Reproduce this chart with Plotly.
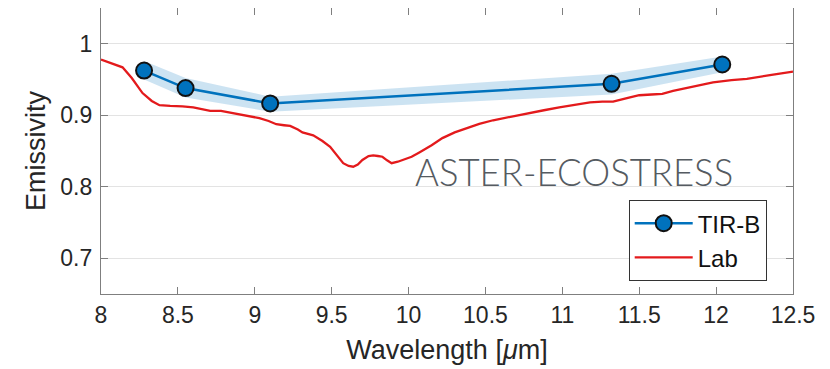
import plotly.graph_objects as go

# TIR-B measurements
tir_wl = [8.28, 8.55, 9.10, 11.32, 12.04]
tir_em = [0.9625, 0.938, 0.9165, 0.944, 0.971]
tir_upper = [0.976, 0.952, 0.926, 0.958, 0.982]
tir_lower = [0.950, 0.925, 0.905, 0.929, 0.960]

# Lab spectrum
lab_wl = [8.00, 8.07, 8.14, 8.20, 8.27, 8.33, 8.38, 8.45, 8.53, 8.60,
          8.66, 8.71, 8.78, 8.86, 8.95, 9.03, 9.09, 9.14, 9.19, 9.23,
          9.28, 9.31, 9.38, 9.44, 9.49, 9.53, 9.575, 9.61, 9.64, 9.67,
          9.70, 9.74, 9.77, 9.80, 9.83, 9.86, 9.89, 9.93, 9.96, 10.02,
          10.07, 10.15, 10.22, 10.30, 10.38, 10.46, 10.55, 10.66, 10.77, 10.88,
          10.98, 11.08, 11.18, 11.26, 11.33, 11.42, 11.50, 11.58, 11.65, 11.72,
          11.79, 11.88, 11.98, 12.10, 12.20, 12.35, 12.50]
lab_em = [0.978, 0.973, 0.967, 0.952, 0.931, 0.920, 0.914, 0.913, 0.9125, 0.911,
          0.908, 0.906, 0.906, 0.903, 0.900, 0.896, 0.892, 0.8875, 0.886, 0.885,
          0.880, 0.876, 0.872, 0.864, 0.856, 0.845, 0.833, 0.829, 0.828, 0.831,
          0.8375, 0.843, 0.844, 0.843, 0.842, 0.837, 0.833, 0.835, 0.8375, 0.842,
          0.848, 0.858, 0.868, 0.876, 0.882, 0.888, 0.893, 0.898, 0.903, 0.907,
          0.911, 0.915, 0.918, 0.919, 0.919, 0.924, 0.928, 0.929, 0.930, 0.934,
          0.9375, 0.942, 0.946, 0.949, 0.951, 0.956, 0.961]

x_ticks = [8, 8.5, 9, 9.5, 10, 10.5, 11, 11.5, 12, 12.5]
x_ticktext = ["8", "8.5", "9", "9.5", "10", "10.5", "11", "11.5", "12", "12.5"]
y_ticks = [0.7, 0.8, 0.9, 1.0]
y_ticktext = ["0.7", "0.8", "0.9", "1"]

FONT = "Liberation Sans, Arial, sans-serif"
AXCOL = "#7f7f7f"

fig = go.Figure()

fig.add_trace(go.Scatter(
    x=tir_wl + tir_wl[::-1], y=tir_upper + tir_lower[::-1],
    fill="toself", fillcolor="rgba(0,114,189,0.2)", line=dict(width=0),
    mode="lines", showlegend=False, hoverinfo="skip"))

fig.add_trace(go.Scatter(
    x=tir_wl, y=tir_em, mode="lines+markers", name="TIR-B",
    line=dict(color="#0072BD", width=2.5),
    marker=dict(size=16, color="#0072BD", line=dict(color="#111111", width=2))))

fig.add_trace(go.Scatter(
    x=lab_wl, y=lab_em, mode="lines", name="Lab",
    line=dict(color="#e31a1c", width=2.3)))

fig.add_annotation(
    x=10.03, y=0.820, xref="x", yref="y", xanchor="left", yanchor="middle",
    text="ASTER-ECOSTRESS", showarrow=False,
    font=dict(family="Lato, Roboto, sans-serif", size=36.5, color="#555b61", weight=300))

# page body has an 8px default margin, so margins are offset accordingly
fig.update_layout(
    width=830, height=369,
    margin=dict(l=93, r=45, t=0, b=83, pad=0, autoexpand=False),
    paper_bgcolor="white", plot_bgcolor="white",
    font=dict(family=FONT, color="#262626"),
    legend=dict(x=0.962, y=0.045, xanchor="right", yanchor="bottom",
                bgcolor="white", bordercolor="#333333", borderwidth=1,
                font=dict(size=24, color="#111111"), itemwidth=58,
                tracegroupgap=0),
    xaxis=dict(range=[8, 12.5], tickvals=x_ticks, ticktext=x_ticktext,
               automargin=False,
               showgrid=False, zeroline=False, showline=True, linecolor=AXCOL,
               linewidth=1.2, mirror="ticks", ticks="inside", ticklen=7,
               tickcolor=AXCOL, tickfont=dict(size=23, color="#262626"),
               title=dict(text="Wavelength [<i>μ</i>m]", font=dict(size=27, color="#262626"),
                          standoff=13)),
    yaxis=dict(range=[0.65, 1.05], tickvals=y_ticks, ticktext=y_ticktext,
               automargin=False,
               showgrid=True, gridcolor="#e3e3e3", gridwidth=1,
               zeroline=False, showline=True, linecolor=AXCOL,
               linewidth=1.2, mirror="ticks", ticks="inside", ticklen=7,
               tickcolor=AXCOL, tickfont=dict(size=23, color="#262626"),
               ticklabelstandoff=3,
               title=dict(text="Emissivity", font=dict(size=27, color="#262626"),
                          standoff=6)),
)

fig.write_html("out.html")
